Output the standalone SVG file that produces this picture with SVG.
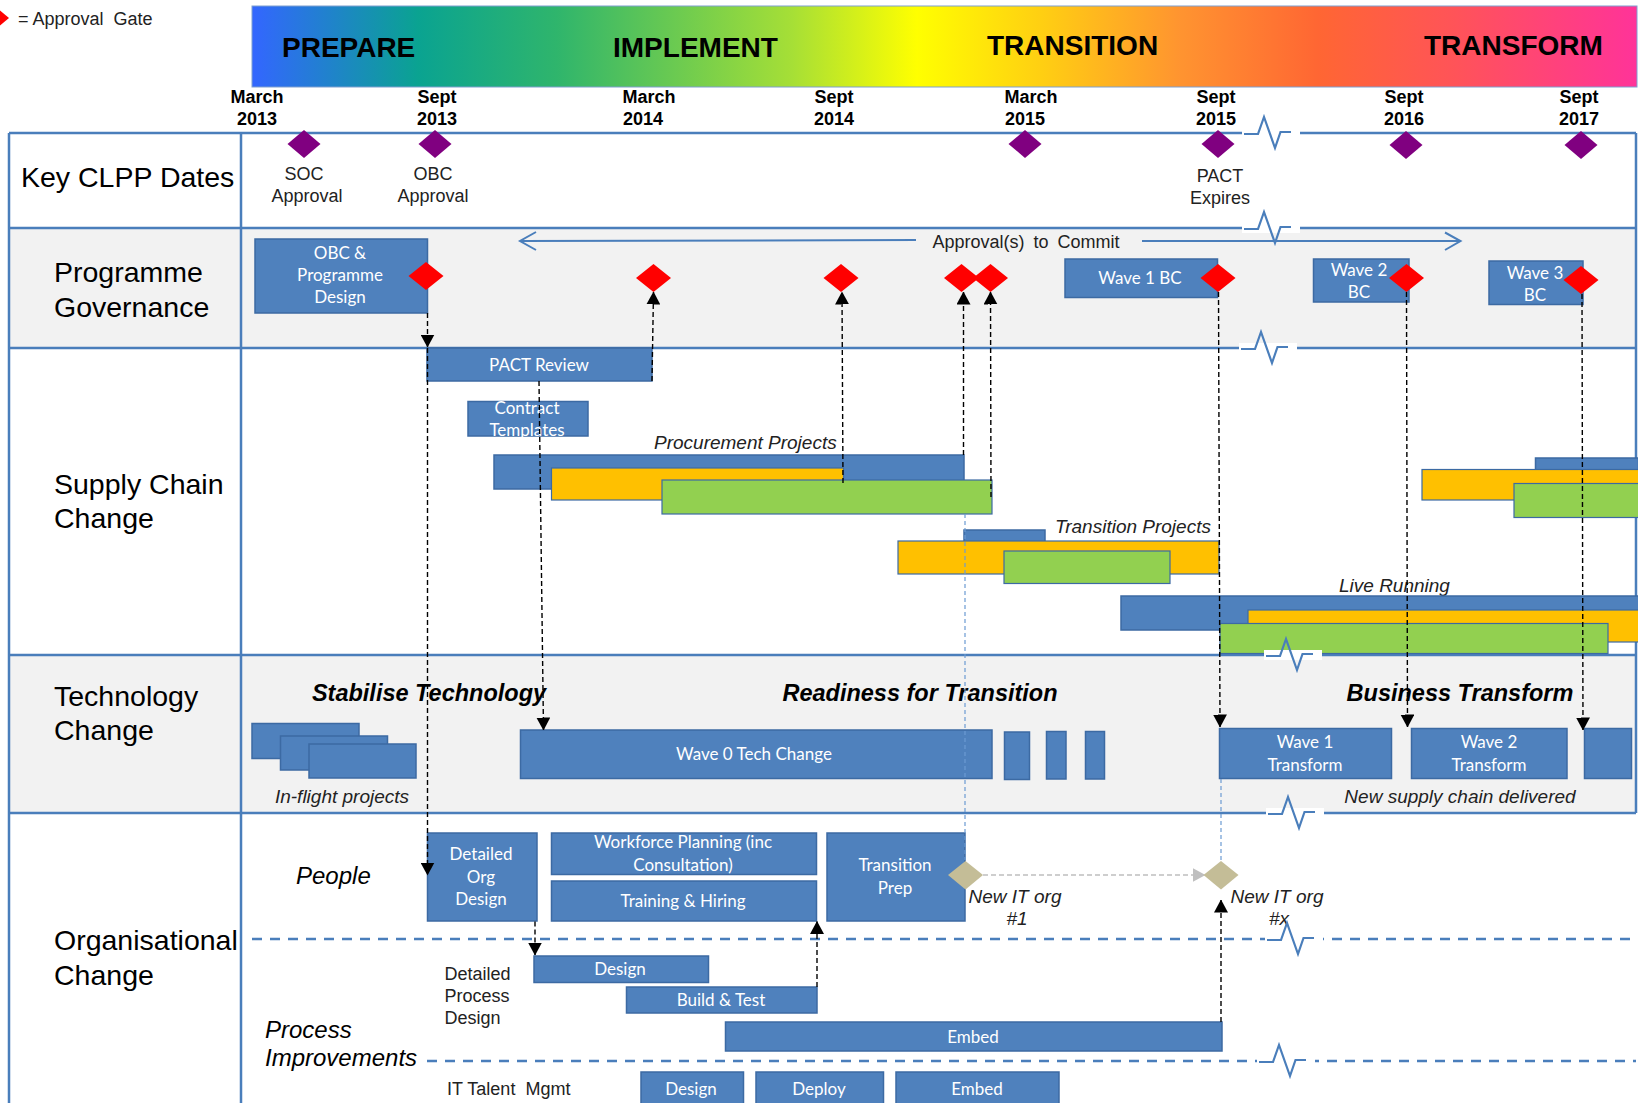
<svg xmlns="http://www.w3.org/2000/svg" xmlns:xlink="http://www.w3.org/1999/xlink" width="1638" height="1103" viewBox="0 0 1638 1103">
<defs>
<linearGradient id="phaseGrad" x1="252" y1="0" x2="1637" y2="0" gradientUnits="userSpaceOnUse">
<stop offset="0" stop-color="#3366ff"/>
<stop offset="0.12" stop-color="#0aa391"/>
<stop offset="0.22" stop-color="#2fb56c"/>
<stop offset="0.39" stop-color="#a6df36"/>
<stop offset="0.48" stop-color="#ffff00"/>
<stop offset="0.57" stop-color="#ffcf12"/>
<stop offset="0.67" stop-color="#ff9430"/>
<stop offset="0.77" stop-color="#ff6633"/>
<stop offset="0.87" stop-color="#ff5359"/>
<stop offset="1" stop-color="#ff3399"/>
</linearGradient>
<marker id="ah" viewBox="0 0 13 14" refX="12.5" refY="7" markerWidth="13" markerHeight="14" markerUnits="userSpaceOnUse" orient="auto"><path d="M0,0 L13,7 L0,14 z" fill="#000"/></marker>
<marker id="ahg" viewBox="0 0 13 14" refX="12.5" refY="7" markerWidth="13" markerHeight="14" markerUnits="userSpaceOnUse" orient="auto"><path d="M0,0 L13,7 L0,14 z" fill="#bfbfbf"/></marker>
<g id="brk"><rect x="-28" y="-5" width="58" height="10" fill="#ffffff"/><path d="M-26,1 H-12 L-6,-16 L5,15 L10.5,-1 H21" fill="none" stroke="#4a7ebb" stroke-width="2.2"/></g>
</defs>
<style>
.rowline{stroke:#4a7ebb;stroke-width:2.5;fill:none}
.dash{stroke:#4a7ebb;stroke-width:2.5;stroke-dasharray:10 8;fill:none}
.lbl{font-family:"Liberation Sans",Arial,sans-serif;font-size:28.5px;fill:#000}
.phase{font-family:"Liberation Sans",Arial,sans-serif;font-size:28px;font-weight:bold;fill:#000}
.date{font-family:"Liberation Sans",Arial,sans-serif;font-size:18px;font-weight:bold;fill:#000;text-anchor:middle}
.t18{font-family:"Liberation Sans",Arial,sans-serif;font-size:18px;fill:#222}
.mid{text-anchor:middle}
.it19{font-family:"Liberation Sans",Arial,sans-serif;font-size:19px;font-style:italic;fill:#222}
.it24{font-family:"Liberation Sans",Arial,sans-serif;font-size:24px;font-style:italic;fill:#000}
.bi{font-family:"Liberation Sans",Arial,sans-serif;font-size:23.5px;font-style:italic;font-weight:bold;fill:#000;text-anchor:middle}
.bar{fill:#4f81bd;stroke:#3c6aa3;stroke-width:1.5}
.org{fill:#ffc000;stroke:#3c6aa3;stroke-width:1.2}
.grn{fill:#92d050;stroke:#3c6aa3;stroke-width:1.2}
.bx{font-family:Lato,"Open Sans",sans-serif;font-size:17px;fill:#ffffff;text-anchor:middle}
.gate{fill:#ff0000}
.key{fill:#800080}
.ms{fill:#c4bd97}
.conn{stroke:#000;stroke-width:1.4;stroke-dasharray:5 3;fill:none}
.lb{stroke:#6c9bd2;stroke-width:1.2;stroke-dasharray:4 3;fill:none}
.gr{stroke:#bfbfbf;stroke-width:1.4;stroke-dasharray:5 3;fill:none}
.appr{stroke:#4a7ebb;stroke-width:2;fill:none}
</style>
<rect x="0" y="0" width="1638" height="1103" fill="#ffffff"/>

<!-- legend -->
<g id="legend">
<polygon points="-8,4 9,18 -8,32 -25,18" class="gate"/>
<text x="18" y="25" class="t18" xml:space="preserve">= Approval  Gate</text>
</g>

<!-- phase header -->
<g id="phases">
<rect x="252" y="6" width="1385" height="81" fill="url(#phaseGrad)" stroke="#7f9fcf" stroke-width="1"/>
<text x="282" y="57" class="phase">PREPARE</text>
<text x="613" y="57" class="phase">IMPLEMENT</text>
<text x="987" y="55" class="phase">TRANSITION</text>
<text x="1424" y="55" class="phase">TRANSFORM</text>
</g>

<!-- dates -->
<g id="dates">
<text class="date"><tspan x="257" y="103">March</tspan><tspan x="257" y="125">2013</tspan></text>
<text class="date"><tspan x="437" y="103">Sept</tspan><tspan x="437" y="125">2013</tspan></text>
<text class="date"><tspan x="649" y="103">March</tspan><tspan x="643" y="125">2014</tspan></text>
<text class="date"><tspan x="834" y="103">Sept</tspan><tspan x="834" y="125">2014</tspan></text>
<text class="date"><tspan x="1031" y="103">March</tspan><tspan x="1025" y="125">2015</tspan></text>
<text class="date"><tspan x="1216" y="103">Sept</tspan><tspan x="1216" y="125">2015</tspan></text>
<text class="date"><tspan x="1404" y="103">Sept</tspan><tspan x="1404" y="125">2016</tspan></text>
<text class="date"><tspan x="1579" y="103">Sept</tspan><tspan x="1579" y="125">2017</tspan></text>
</g>

<!-- table -->
<g id="table">
<rect x="9" y="228" width="1627" height="120" fill="#f2f2f2"/>
<rect x="9" y="655" width="1627" height="158" fill="#f2f2f2"/>
<line x1="9" y1="133" x2="1636" y2="133" class="rowline"/>
<line x1="9" y1="228" x2="1636" y2="228" class="rowline"/>
<line x1="9" y1="348" x2="1636" y2="348" class="rowline"/>
<line x1="9" y1="655" x2="1636" y2="655" class="rowline"/>
<line x1="9" y1="813" x2="1636" y2="813" class="rowline"/>
<line x1="9" y1="133" x2="9" y2="1103" class="rowline"/>
<line x1="241" y1="133" x2="241" y2="1103" class="rowline"/>
<line x1="1636" y1="133" x2="1636" y2="813" class="rowline"/>
<line x1="252" y1="939" x2="1636" y2="939" class="dash"/>
<line x1="427" y1="1061" x2="1636" y2="1061" class="dash"/>
</g>

<!-- row labels -->
<g id="row-key"><text x="21" y="187" class="lbl">Key CLPP Dates</text></g>
<g id="row-gov"><text class="lbl"><tspan x="54" y="282">Programme</tspan><tspan x="54" y="317">Governance</tspan></text></g>
<g id="row-supply"><text class="lbl"><tspan x="54" y="494">Supply Chain</tspan><tspan x="54" y="528">Change</tspan></text></g>
<g id="row-tech"><text class="lbl"><tspan x="54" y="706">Technology</tspan><tspan x="54" y="740">Change</tspan></text></g>
<g id="row-org"><text class="lbl"><tspan x="54" y="950">Organisational</tspan><tspan x="54" y="985">Change</tspan></text></g>

<!-- key dates -->
<g id="key-soc"><polygon points="304,130 320.5,144 304,158 287.5,144" class="key"/><text class="t18 mid"><tspan x="304" y="180">SOC</tspan><tspan x="307" y="202">Approval</tspan></text></g>
<g id="key-obc"><polygon points="435,130 451.5,144 435,158 418.5,144" class="key"/><text class="t18 mid"><tspan x="433" y="180">OBC</tspan><tspan x="433" y="202">Approval</tspan></text></g>
<g id="key-mar15"><polygon points="1025,130 1041.5,144 1025,158 1008.5,144" class="key"/></g>
<g id="key-pact"><polygon points="1218,130 1234.5,144 1218,158 1201.5,144" class="key"/><text class="t18 mid"><tspan x="1220" y="182">PACT</tspan><tspan x="1220" y="204">Expires</tspan></text></g>
<g id="key-sep16"><polygon points="1406,131 1422.5,145 1406,159 1389.5,145" class="key"/></g>
<g id="key-sep17"><polygon points="1581,131 1597.5,145 1581,159 1564.5,145" class="key"/></g>

<!-- approval to commit -->
<g id="approval-commit">
<line x1="520" y1="241" x2="916" y2="240" class="appr"/>
<path d="M536,232 L520,241 L536,250" class="appr"/>
<line x1="1142" y1="241" x2="1460" y2="241" class="appr"/>
<path d="M1445,232.5 L1460.5,241 L1445,250" class="appr"/>
<text x="1026" y="248" class="t18 mid" word-spacing="4">Approval(s) to Commit</text>
</g>

<!-- governance boxes -->
<g id="obc-design"><rect x="255" y="239" width="172.5" height="74" class="bar"/><text class="bx"><tspan x="340" y="259">OBC &amp;</tspan><tspan x="340" y="281">Programme</tspan><tspan x="340" y="303">Design</tspan></text></g>
<g id="wave1-bc"><rect x="1065" y="259" width="152.5" height="38.5" class="bar"/><text x="1140" y="284" class="bx">Wave 1 BC</text></g>
<g id="wave2-bc"><rect x="1313.5" y="259" width="95.5" height="43" class="bar"/><text class="bx"><tspan x="1359" y="276">Wave 2</tspan><tspan x="1359" y="298">BC</tspan></text></g>
<g id="wave3-bc"><rect x="1489" y="261" width="94" height="43.5" class="bar"/><text class="bx"><tspan x="1535" y="279">Wave 3</tspan><tspan x="1535" y="301">BC</tspan></text></g>

<!-- supply chain -->
<g id="pact-review"><rect x="427" y="348" width="225" height="33" class="bar"/><text x="539" y="371" class="bx">PACT Review</text></g>
<g id="contract-templates"><rect x="468" y="401.5" width="120" height="34.5" class="bar"/><text class="bx"><tspan x="527" y="414">Contract</tspan><tspan x="527" y="436">Templates</tspan></text></g>
<g id="procurement-projects">
<text x="654" y="449" class="it19">Procurement Projects</text>
<rect x="494" y="455" width="470" height="34" class="bar"/>
<rect x="551.5" y="468" width="292" height="32" class="org"/>
<rect x="662" y="480" width="330" height="34" class="grn"/>
</g>
<g id="transition-projects">
<text x="1055" y="533" class="it19">Transition Projects</text>
<rect x="964" y="530" width="81" height="12" class="bar"/>
<rect x="898" y="541" width="321" height="33" class="org"/>
<rect x="1004" y="551" width="166" height="32.5" class="grn"/>
</g>
<g id="live-running">
<text x="1339" y="592" class="it19">Live Running</text>
<rect x="1121" y="596" width="518" height="34" class="bar"/>
<rect x="1248" y="610" width="391" height="32" class="org"/>
<rect x="1220" y="623.5" width="388" height="30" class="grn"/>
</g>
<g id="wave3-procurement">
<rect x="1535.5" y="458" width="103" height="12" class="bar"/>
<rect x="1422" y="469.5" width="217" height="30.5" class="org"/>
<rect x="1514" y="483.5" width="125" height="34" class="grn"/>
</g>

<!-- technology -->
<g id="tech-headings">
<text x="429" y="701" class="bi">Stabilise Technology</text>
<text x="920" y="701" class="bi">Readiness for Transition</text>
<text x="1460" y="701" class="bi">Business Transform</text>
</g>
<g id="inflight">
<rect x="252" y="723.5" width="107" height="35" class="bar"/>
<rect x="280.5" y="736" width="107" height="34" class="bar"/>
<rect x="309" y="744" width="107" height="34" class="bar"/>
<text x="342" y="803" class="it19 mid">In-flight projects</text>
</g>
<g id="wave0"><rect x="520.5" y="730" width="471.5" height="48.5" class="bar"/><text x="754" y="760" class="bx">Wave 0 Tech Change</text></g>
<g id="wave0-s1"><rect x="1004.5" y="732" width="25" height="47.5" class="bar"/></g>
<g id="wave0-s2"><rect x="1046.5" y="731.5" width="19.5" height="47.5" class="bar"/></g>
<g id="wave0-s3"><rect x="1085.5" y="731.5" width="19" height="47.5" class="bar"/></g>
<g id="wave1-transform"><rect x="1219.5" y="728.5" width="172" height="50" class="bar"/><text class="bx"><tspan x="1305" y="748">Wave 1</tspan><tspan x="1305" y="771">Transform</tspan></text></g>
<g id="wave2-transform"><rect x="1411.5" y="728.5" width="155.5" height="50" class="bar"/><text class="bx"><tspan x="1489" y="748">Wave 2</tspan><tspan x="1489" y="771">Transform</tspan></text></g>
<g id="wave3-transform"><rect x="1584.5" y="728.5" width="47" height="50" class="bar"/></g>
<g id="new-supply"><text x="1460" y="803" class="it19 mid">New supply chain delivered</text></g>

<!-- organisational -->
<g id="people-label"><text x="296" y="884" class="it24">People</text></g>
<g id="detailed-org"><rect x="427.5" y="833" width="109.5" height="88" class="bar"/><text class="bx"><tspan x="481" y="860">Detailed</tspan><tspan x="481" y="883">Org</tspan><tspan x="481" y="905">Design</tspan></text></g>
<g id="workforce"><rect x="551.5" y="833" width="265" height="41.5" class="bar"/><text class="bx"><tspan x="683" y="848">Workforce Planning (inc</tspan><tspan x="683" y="871">Consultation)</tspan></text></g>
<g id="training"><rect x="551.5" y="881" width="265" height="40" class="bar"/><text x="683" y="907" class="bx">Training &amp; Hiring</text></g>
<g id="transition-prep"><rect x="827" y="833" width="138" height="88" class="bar"/><text class="bx"><tspan x="895" y="871">Transition</tspan><tspan x="895" y="894">Prep</tspan></text></g>
<g id="process-label"><text class="it24"><tspan x="265" y="1038">Process</tspan><tspan x="265" y="1066">Improvements</tspan></text></g>
<g id="dpd-label"><text class="t18"><tspan x="444.5" y="980">Detailed</tspan><tspan x="444.5" y="1002">Process</tspan><tspan x="444.5" y="1024">Design</tspan></text></g>
<g id="pd-design"><rect x="534" y="956" width="174.5" height="26.5" class="bar"/><text x="620" y="975" class="bx">Design</text></g>
<g id="pd-build"><rect x="626.5" y="987" width="190.5" height="26" class="bar"/><text x="721" y="1006" class="bx">Build &amp; Test</text></g>
<g id="pd-embed"><rect x="725.5" y="1022" width="496.5" height="29" class="bar"/><text x="973" y="1043" class="bx">Embed</text></g>
<g id="it-talent-label"><text x="447" y="1095" class="t18" xml:space="preserve">IT Talent  Mgmt</text></g>
<g id="it-design"><rect x="641" y="1072" width="102.5" height="40" class="bar"/><text x="691" y="1095" class="bx">Design</text></g>
<g id="it-deploy"><rect x="756" y="1072" width="127.5" height="40" class="bar"/><text x="819" y="1095" class="bx">Deploy</text></g>
<g id="it-embed"><rect x="896" y="1072" width="163" height="40" class="bar"/><text x="977" y="1095" class="bx">Embed</text></g>
<g id="new-it-1"><text class="it19 mid" font-size="18"><tspan x="1015" y="903">New IT org</tspan><tspan x="1017" y="925">#1</tspan></text></g>
<g id="new-it-x"><text class="it19 mid" font-size="18"><tspan x="1277" y="903">New IT org</tspan><tspan x="1279" y="925">#x</tspan></text></g>

<!-- connectors -->
<g id="connectors">
<line x1="427.5" y1="313" x2="427.5" y2="347" class="conn" marker-end="url(#ah)"/>
<line x1="427.5" y1="348" x2="427.5" y2="875" class="conn" marker-end="url(#ah)"/>
<line x1="539" y1="381" x2="543.5" y2="730" class="conn" marker-end="url(#ah)"/>
<line x1="652" y1="381" x2="653.5" y2="292" class="conn" marker-end="url(#ah)"/>
<line x1="843" y1="483" x2="842" y2="292" class="conn" marker-end="url(#ah)"/>
<line x1="963.5" y1="455" x2="963.5" y2="292" class="conn" marker-end="url(#ah)"/>
<line x1="991" y1="497" x2="990.5" y2="292" class="conn" marker-end="url(#ah)"/>
<line x1="1218.5" y1="292" x2="1220" y2="727" class="conn" marker-end="url(#ah)"/>
<line x1="1406.5" y1="292" x2="1407.5" y2="727" class="conn" marker-end="url(#ah)"/>
<line x1="1582" y1="294" x2="1583" y2="730" class="conn" marker-end="url(#ah)"/>
<line x1="817" y1="987" x2="817" y2="921.5" class="conn" marker-end="url(#ah)"/>
<line x1="535" y1="921.5" x2="535" y2="955" class="conn" marker-end="url(#ah)"/>
<line x1="1221" y1="1022" x2="1221" y2="900" class="conn" marker-end="url(#ah)"/>
<line x1="983" y1="875" x2="1205" y2="875" class="gr" marker-end="url(#ahg)"/>
<line x1="965" y1="514" x2="965" y2="860" class="lb"/>
<line x1="1221" y1="779" x2="1221" y2="861" class="lb"/>
</g>

<!-- gates -->
<g id="gates">
<polygon points="426,262 443.5,276 426,290 408.5,276" class="gate"/>
<polygon points="653.5,264 671,278 653.5,292 636,278" class="gate"/>
<polygon points="841,264 858.5,278 841,292 823.5,278" class="gate"/>
<polygon points="961.5,264 979,278 961.5,292 944,278" class="gate"/>
<polygon points="990.5,264 1008,278 990.5,292 973,278" class="gate"/>
<polygon points="1218,264 1235.5,278 1218,292 1200.5,278" class="gate"/>
<polygon points="1406.5,264 1424,278 1406.5,292 1389,278" class="gate"/>
<polygon points="1581,266 1598.5,280 1581,294 1563.5,280" class="gate"/>
</g>
<g id="milestones">
<polygon points="965.5,861 983,875 965.5,889.5 948,875" class="ms"/>
<polygon points="1221,861 1238.5,875 1221,889.5 1203.5,875" class="ms"/>
</g>

<!-- scale breaks -->
<g id="breaks">
<use xlink:href="#brk" href="#brk" x="1270" y="133"/>
<use xlink:href="#brk" href="#brk" x="1270" y="228"/>
<use xlink:href="#brk" href="#brk" x="1267" y="348"/>
<use xlink:href="#brk" href="#brk" x="1292" y="655"/>
<use xlink:href="#brk" href="#brk" x="1294" y="813"/>
<use xlink:href="#brk" href="#brk" x="1293" y="939"/>
<use xlink:href="#brk" href="#brk" x="1285" y="1061"/>
</g>
</svg>
